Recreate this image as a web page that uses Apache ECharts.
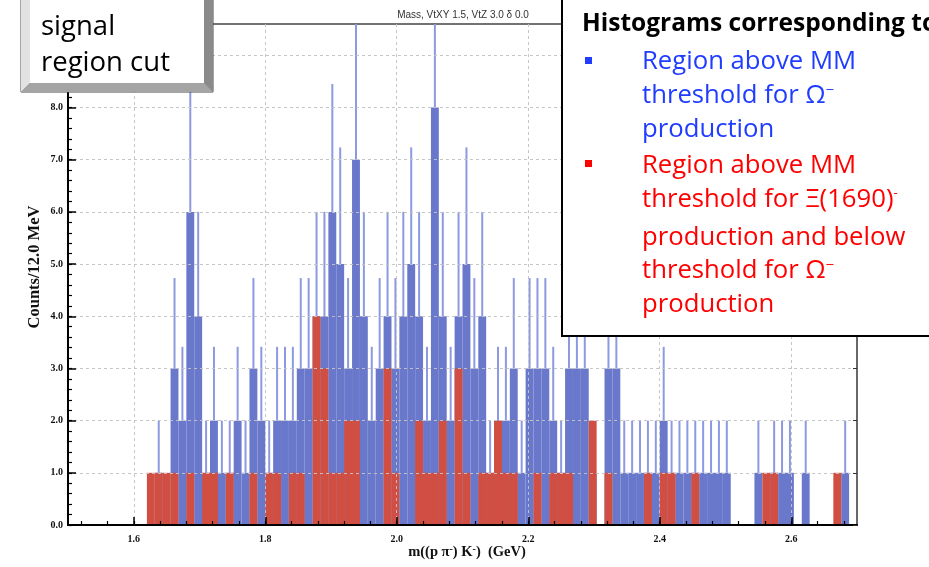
<!DOCTYPE html>
<html>
<head>
<meta charset="utf-8">
<script src="https://cdn.jsdelivr.net/npm/echarts@6/dist/echarts.min.js"></script>
<style>
  html, body { margin: 0; padding: 0; background: #fff; }
  #chart { width: 929px; height: 567px; }
</style>
</head>
<body>
<div id="chart"></div>
<script>
// Histogram binning: 12 MeV bins starting at 1.5 GeV
const binStart = 1.5;
const binWidth = 0.012;

// Counts per bin, region above the MM threshold for Omega- production
const aboveOmega = [
  0, 0, 0, 0, 0, 0, 0, 0, 0, 0,
  0, 1, 0, 3, 2, 6, 4, 1, 2, 1,
  1, 2, 1, 3, 2, 1, 2, 2, 2, 3,
  3, 4, 4, 6, 5, 3, 7, 4, 2, 3,
  4, 3, 4, 5, 4, 2, 8, 4, 2, 4,
  5, 3, 4, 1, 2, 2, 3, 1, 3, 3,
  3, 2, 1, 3, 3, 3, 1, 0, 3, 3,
  1, 1, 1, 1, 1, 2, 1, 1, 1, 1,
  1, 1, 1, 1, 0, 0, 0, 1, 0, 1,
  1, 1, 0, 1, 0, 0, 0, 0, 1, 0
];

// Counts per bin, region between the Xi(1690)- and Omega- thresholds
const xiWindow = [
  0, 0, 0, 0, 0, 0, 0, 0, 0, 0,
  1, 1, 1, 1, 0, 1, 0, 1, 1, 0,
  1, 0, 0, 1, 0, 1, 1, 0, 1, 1,
  0, 4, 3, 1, 1, 2, 2, 0, 0, 0,
  3, 1, 0, 0, 2, 1, 1, 2, 0, 3,
  1, 0, 1, 1, 2, 1, 1, 0, 0, 1,
  0, 1, 1, 1, 0, 0, 2, 0, 1, 0,
  0, 0, 0, 1, 0, 1, 1, 0, 0, 1,
  0, 0, 0, 0, 0, 0, 0, 0, 1, 1,
  0, 0, 0, 0, 0, 0, 0, 1, 0, 0
];

// Axis tick labels
const xTickValues = [1.6, 1.8, 2.0, 2.2, 2.4, 2.6];
const yTickValues = [0, 1, 2, 3, 4, 5, 6, 7, 8];
const yTickMarks = [0, 1, 2, 3, 4, 5, 6, 7, 8, 9];

const xMin = 1.5, xMax = 2.7, yMin = 0, yMax = 9.6;

// minor tick positions
const xMinor = [];
for (let k = 38; k <= 67; k++) xMinor.push(+(k * 0.04).toFixed(2));
const yMinor = [];
for (let k = 0; k <= 48; k++) yMinor.push(+(k * 0.2).toFixed(1));

const BLUE = '#6a78cc';
const BLUE_ERR = '#8d9ae2';
const RED = '#d04e42';

function toBins(counts) {
  const out = [];
  counts.forEach((c, i) => {
    if (c > 0) out.push([binStart + i * binWidth, binStart + (i + 1) * binWidth, c]);
  });
  return out;
}

function barRenderer(color) {
  return function (params, api) {
    const lo = api.coord([api.value(0), 0]);
    const hi = api.coord([api.value(1), api.value(2)]);
    return {
      type: 'rect',
      shape: { x: lo[0], y: hi[1], width: hi[0] - lo[0], height: lo[1] - hi[1] },
      style: { fill: color }
    };
  };
}

function errRenderer(params, api) {
  const c = api.value(2);
  const xc = (api.value(0) + api.value(1)) / 2;
  const a = api.coord([xc, c]);
  const b = api.coord([xc, c + Math.sqrt(c)]);
  return {
    type: 'line',
    shape: { x1: a[0], y1: a[1], x2: b[0], y2: b[1] },
    style: { stroke: BLUE_ERR, lineWidth: 2 }
  };
}

const serif = '"Liberation Serif", "DejaVu Serif", serif';
const sans = '"Open Sans", "Noto Sans", sans-serif';

const gridLine = { show: true, lineStyle: { color: 'rgba(195,195,195,0.95)', type: [3, 3], width: 1 } };

const chart = echarts.init(document.getElementById('chart'));

const option = {
  animation: false,
  backgroundColor: '#fff',
  grid: { left: 68, top: 24, width: 789, height: 501, show: true, borderColor: '#444', borderWidth: 1.5, backgroundColor: 'transparent' },
  xAxis: [
    {
      type: 'value', min: xMin, max: xMax, position: 'bottom', z: 10,
      axisLine: { show: true, onZero: false, lineStyle: { color: '#000', width: 2 } },
      axisTick: { show: true, inside: true, length: 8, customValues: xTickValues, lineStyle: { color: '#000', width: 1.5 } },
      axisLabel: { show: true, customValues: xTickValues, formatter: v => v.toFixed(1), fontFamily: serif, fontWeight: 'bold', fontSize: 10, color: '#111', margin: 9 },
      splitLine: gridLine
    },
    {
      type: 'value', min: xMin, max: xMax, position: 'bottom', z: 10,
      axisLine: { show: false },
      axisTick: { show: true, inside: true, length: 4, customValues: xMinor, lineStyle: { color: '#000', width: 1.2 } },
      axisLabel: { show: false },
      splitLine: { show: false }
    }
  ],
  yAxis: [
    {
      type: 'value', min: yMin, max: yMax, position: 'left', z: 10,
      axisLine: { show: true, onZero: false, lineStyle: { color: '#000', width: 2 } },
      axisTick: { show: true, inside: true, length: 8, customValues: yTickMarks, lineStyle: { color: '#000', width: 1.5 } },
      axisLabel: { show: true, customValues: yTickValues, formatter: v => v.toFixed(1), fontFamily: serif, fontWeight: 'bold', fontSize: 10, color: '#111', margin: 5 },
      splitLine: gridLine
    },
    {
      type: 'value', min: yMin, max: yMax, position: 'left', z: 10,
      axisLine: { show: false },
      axisTick: { show: true, inside: true, length: 4, customValues: yMinor, lineStyle: { color: '#000', width: 1.2 } },
      axisLabel: { show: false },
      splitLine: { show: false }
    },
    {
      type: 'value', min: yMin, max: yMax, position: 'right', z: 10,
      axisLine: { show: true, onZero: false, lineStyle: { color: '#666', width: 1.5 } },
      axisTick: { show: true, inside: true, length: 4, customValues: yTickMarks, lineStyle: { color: '#333', width: 1 } },
      axisLabel: { show: false },
      splitLine: { show: false }
    }
  ],
  series: [
    { type: 'custom', name: 'aboveOmega', clip: true, z: 2, renderItem: barRenderer(BLUE), encode: { x: [0, 1], y: 2 }, data: toBins(aboveOmega) },
    { type: 'custom', name: 'aboveOmegaErr', clip: true, z: 3, renderItem: errRenderer, encode: { x: [0, 1], y: 2 }, data: toBins(aboveOmega) },
    { type: 'custom', name: 'xiWindow', clip: true, z: 4, renderItem: barRenderer(RED), encode: { x: [0, 1], y: 2 }, data: toBins(xiWindow) }
  ],
  graphic: [
    // plot title
    { type: 'text', z: 50, style: { x: 463, y: 15, text: 'Mass, VtXY 1.5, VtZ 3.0 \u03b4 0.0', font: '10px "Liberation Sans", Arial, sans-serif', fill: '#333', align: 'center', verticalAlign: 'middle' } },
    // axis names
    { type: 'text', z: 50, style: { x: 467, y: 552, align: 'center', verticalAlign: 'middle',
        text: 'm((p \u03c0{s|-}) K{s|-})  (GeV)',
        rich: { s: { fontSize: 10, fontFamily: serif, fontWeight: 'bold', verticalAlign: 'top', fill: '#111' } },
        fontFamily: serif, fontWeight: 'bold', fontSize: 14.5, fill: '#111' } },
    { type: 'text', z: 50, x: 35, y: 267, rotation: Math.PI / 2, style: { x: 0, y: 0, align: 'center', verticalAlign: 'middle',
        text: 'Counts/12.0 MeV', fontFamily: serif, fontWeight: 'bold', fontSize: 16.5, fill: '#111' } },
    // "signal region cut" box
    { type: 'rect', z: 100, shape: { x: 21, y: -12, width: 192, height: 104 },
      style: { fill: new echarts.graphic.LinearGradient(0, 0, 0, 1, [{ offset: 0, color: '#c8c8c8' }, { offset: 1, color: '#8c8c8c' }]), stroke: '#4a4a4a', lineWidth: 1 } },
    { type: 'polygon', z: 101, shape: { points: [[21, -12], [30, -12], [30, 83], [21, 92]] }, style: { fill: '#e2e2e2' } },
    { type: 'polygon', z: 101, shape: { points: [[204, -12], [213, -12], [213, 92], [204, 83]] }, style: { fill: '#8a8a8a' } },
    { type: 'polygon', z: 101, shape: { points: [[21, 92], [30, 83], [204, 83], [213, 92]] }, style: { fill: '#a4a4a4' } },
    { type: 'rect', z: 102, shape: { x: 30, y: -12, width: 174, height: 95 }, style: { fill: '#fff' } },
    { type: 'text', z: 103, style: { x: 41, y: 27, text: 'signal', font: '27.5px ' + sans, fill: '#000', verticalAlign: 'middle' } },
    { type: 'text', z: 103, style: { x: 41, y: 63, text: 'region cut', font: '27.5px ' + sans, fill: '#000', verticalAlign: 'middle' } },
    // description box
    { type: 'rect', z: 100, shape: { x: 562, y: -5, width: 380, height: 341 }, style: { fill: '#fff', stroke: '#000', lineWidth: 2 } },
    { type: 'text', z: 103, style: { x: 582, y: 24, text: 'Histograms corresponding to', font: 'bold 24.5px ' + sans, fill: '#000', verticalAlign: 'middle' } },
    { type: 'rect', z: 103, shape: { x: 585, y: 57, width: 7, height: 7 }, style: { fill: '#1f3cff' } },
    { type: 'text', z: 103, style: { x: 642, y: 62, text: 'Region above MM', font: '25.7px ' + sans, fill: '#1f3cff', verticalAlign: 'middle' } },
    { type: 'text', z: 103, style: { x: 642, y: 96, text: 'threshold for \u03a9{s|\u2212}', rich: { s: { fontSize: 15, fontFamily: sans, verticalAlign: 'top', fill: '#1f3cff' } }, font: '25.7px ' + sans, fill: '#1f3cff', verticalAlign: 'middle' } },
    { type: 'text', z: 103, style: { x: 642, y: 130, text: 'production', font: '25.7px ' + sans, fill: '#1f3cff', verticalAlign: 'middle' } },
    { type: 'rect', z: 103, shape: { x: 585, y: 160, width: 7, height: 7 }, style: { fill: '#ff0000' } },
    { type: 'text', z: 103, style: { x: 642, y: 166, text: 'Region above MM', font: '25.7px ' + sans, fill: '#ff0000', verticalAlign: 'middle' } },
    { type: 'text', z: 103, style: { x: 642, y: 200, text: 'threshold for \u039e(1690){s|-}', rich: { s: { fontSize: 13, fontFamily: sans, verticalAlign: 'top', fill: '#ff0000' } }, font: '25.7px ' + sans, fill: '#ff0000', verticalAlign: 'middle' } },
    { type: 'text', z: 103, style: { x: 642, y: 238, text: 'production and below', font: '25.7px ' + sans, fill: '#ff0000', verticalAlign: 'middle' } },
    { type: 'text', z: 103, style: { x: 642, y: 271, text: 'threshold for \u03a9{s|\u2212}', rich: { s: { fontSize: 15, fontFamily: sans, verticalAlign: 'top', fill: '#ff0000' } }, font: '25.7px ' + sans, fill: '#ff0000', verticalAlign: 'middle' } },
    { type: 'text', z: 103, style: { x: 642, y: 305, text: 'production', font: '25.7px ' + sans, fill: '#ff0000', verticalAlign: 'middle' } }
  ]
};

chart.setOption(option);
</script>
</body>
</html>
